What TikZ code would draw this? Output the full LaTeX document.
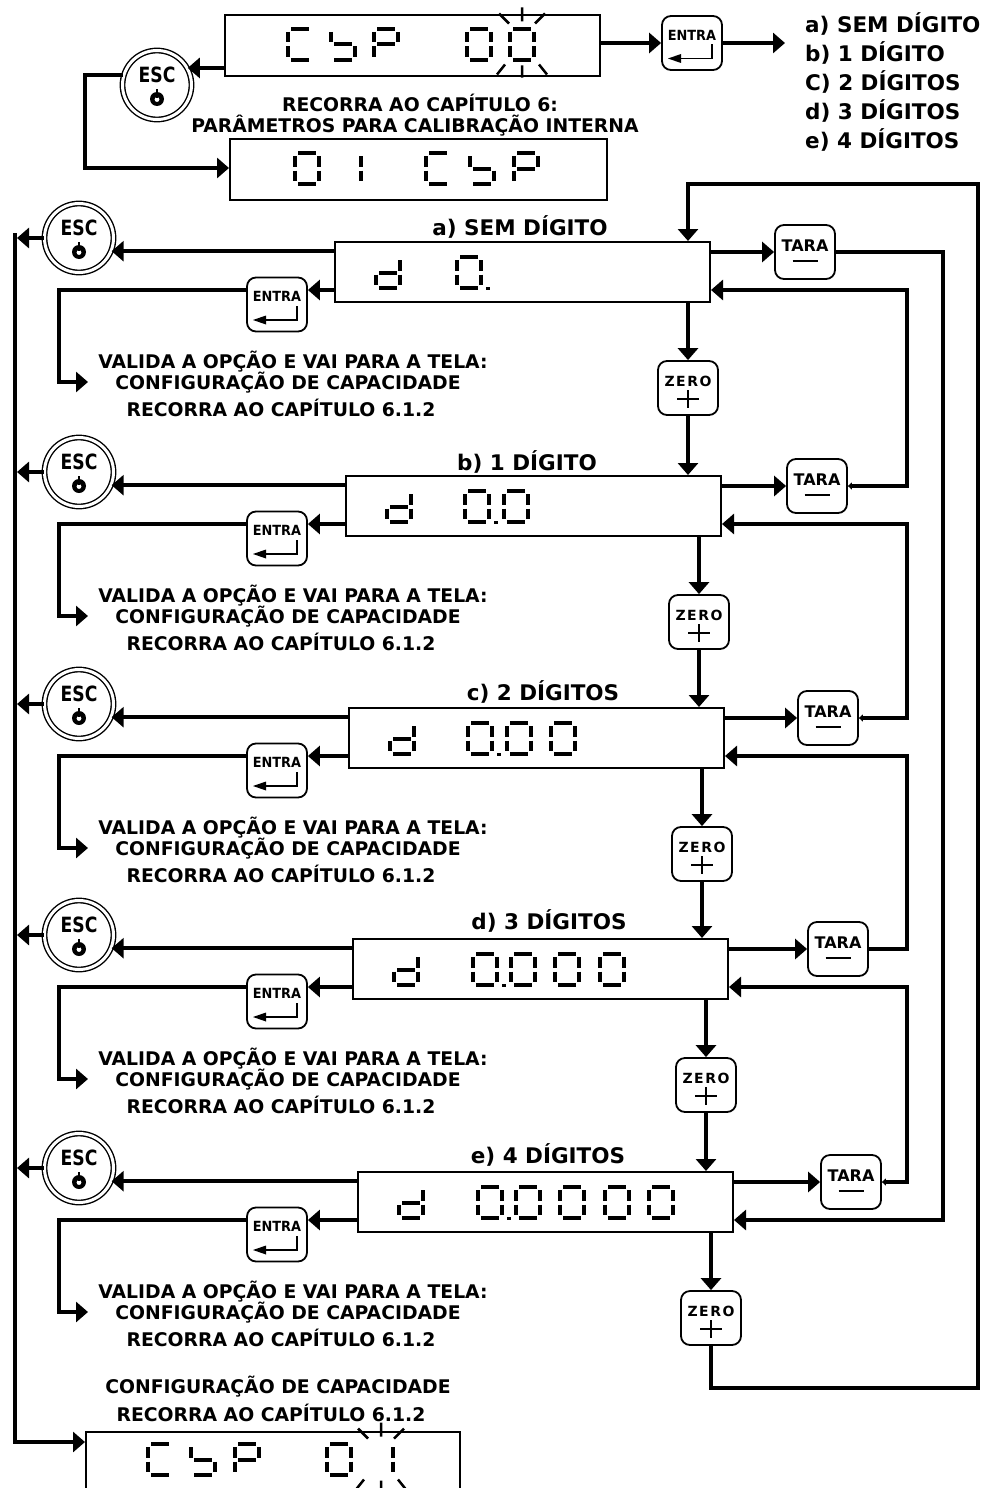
\documentclass[tikz,border=0pt]{standalone}
\usepackage{fontspec}
\usepackage{graphicx}
\setmainfont{DejaVu Sans}
\usetikzlibrary{arrows.meta,calc}
\tikzset{
  arr/.style={line width=4pt,-{Triangle[length=12pt,width=20pt]}},
  arrt/.style={line width=4pt,{Triangle[length=4pt,width=7pt]}-{Triangle[length=12pt,width=20pt]}},
  disp/.style={draw,line width=2pt,minimum width=375pt,minimum height=60pt,inner sep=0pt},
  keyb/.style={draw,line width=1.8pt,rounded corners=9pt,minimum width=60pt,minimum height=54pt,inner sep=0pt},
  escb/.style={circle,draw,double,line width=1.4pt,double distance=3pt,minimum size=69pt,inner sep=0pt},
  sg/.style={line width=4pt},
  ray/.style={line width=2.5pt},
  lbl/.style={font=\bfseries\fontsize{21.5}{21.5}\selectfont,inner sep=0pt},
  body/.style={font=\bfseries\fontsize{18.8}{18.8}\selectfont,inner sep=0pt},
  esct/.style={font=\bfseries\fontsize{21}{21}\selectfont,inner sep=0pt},
  entt/.style={font=\bfseries\fontsize{14}{14}\selectfont,inner sep=0pt},
  tarat/.style={font=\bfseries\fontsize{16}{16}\selectfont,inner sep=0pt},
}
% seven segment pieces: x = left, y = top of a 28 x 35 cell
\newcommand\sgxa[2]{\draw[sg] (#1+5,#2+2) -- (#1+23,#2+2);}
\newcommand\sgxb[2]{\draw[sg] (#1+26,#2+5) -- (#1+26,#2+15.5);}
\newcommand\sgxc[2]{\draw[sg] (#1+26,#2+19.5) -- (#1+26,#2+30);}
\newcommand\sgxd[2]{\draw[sg] (#1+5,#2+33) -- (#1+23,#2+33);}
\newcommand\sgxe[2]{\draw[sg] (#1+2,#2+19.5) -- (#1+2,#2+30);}
\newcommand\sgxf[2]{\draw[sg] (#1+2,#2+5) -- (#1+2,#2+15.5);}
\newcommand\sgxg[2]{\draw[sg] (#1+5,#2+17.5) -- (#1+23,#2+17.5);}
\newcommand\sgxp[2]{\fill (#1+31,#2+32) rectangle (#1+35,#2+35);}
\newcommand\dgt[3]{\foreach \s in {#3}{\csname sgx\s\endcsname{#1}{#2}}}
\newcommand\blinkat[2]{%
  \draw[ray] (#1,#2-37) -- (#1,#2-23) (#1,#2+21) -- (#1,#2+33)
    (#1-13,#2-21) -- (#1-23,#2-31) (#1+13,#2-21) -- (#1+23,#2-31)
    (#1-17,#2+20) -- (#1-25,#2+30) (#1+17,#2+20) -- (#1+25,#2+30);}
\newcommand\escbtn[3]{%
  \node[escb] (#1) at (#2,#3) {};
  \node[esct] (#1t) at (#2,#3-10) {\scalebox{0.82}[1]{ESC}};
  \fill (#2,#3+14) circle (7);
  \fill[white] (#2,#3+14.5) circle (2.4);
  \draw[line width=2.8pt] (#2,#3+4) -- (#2,#3+13);}
\newcommand\entbtn[3]{%
  \node[keyb] (#1) at (#2,#3) {};
  \node[entt] (#1t) at (#2,#3-8) {\scalebox{0.92}[1]{ENTRA}};
  \draw[line width=1.8pt] (#2+20,#3+1.5) -- (#2+20,#3+15.5) -- (#2-12,#3+15.5);
  \fill (#2-24,#3+15.5) -- (#2-11,#3+11) -- (#2-11,#3+20) -- cycle;}
\newcommand\tarabtn[3]{%
  \node[keyb] (#1) at (#2,#3) {};
  \node[tarat] (#1t) at (#2,#3-6) {TARA};
  \draw[line width=1.8pt] (#2-12.5,#3+9) -- (#2+12.5,#3+9);}
\newcommand\zerobtn[3]{%
  \node[keyb] (#1) at (#2,#3) {};
  \node[entt] (#1t) at (#2,#3-7) {Z\kern1.5pt E\kern1.5pt R\kern1.5pt O};
  \draw[line width=1.5pt] (#2-11,#3+11) -- (#2+11,#3+11) (#2,#3+2) -- (#2,#3+20);}
% one row: #1 name, #2 top, #3 left, #4 tara x, #5 label x, #6 label y, #7 label
\newcommand\rowx[7]{%
  \node[disp] (d#1) at (#3+187.5,#2+30) {};
  \node[lbl] (lab#1) at (#5,#6) {#7};
  \escbtn{esc#1}{79}{#2-4}
  \entbtn{ent#1}{277}{#2+62.5}
  \tarabtn{tara#1}{#4}{#2+10}
  \zerobtn{z#1}{#3+353}{#2+146}
  \node[body] (va#1) at (293,#2+120) {VALIDA A OPÇÃO E VAI PARA A TELA:};
  \node[body] (cf#1) at (288,#2+141) {CONFIGURAÇÃO DE CAPACIDADE};
  \node[body] (rc#1) at (281,#2+166) {RECORRA AO CAPÍTULO 6.1.2};
  \coordinate (ey#1) at (0,#2+48);
  \coordinate (ec#1) at (59,#2+140);
  \coordinate (ea#1) at (88,#2+140);
  \dgt{#3+39}{#2+13}{b,c,d,e,g}
  \draw[arr] (esc#1.-22 -| d#1.west) -- (esc#1.-22);
  \draw[arr] (esc#1.west) -- (esc#1.west -| lfte);
  \draw[arr] (ey#1 -| d#1.west) -- (ey#1 -| ent#1.east);
  \draw[arr] (ey#1 -| ent#1.west) -| (ec#1) -- (ea#1);
  \draw[arr] (d#1.east |- tara#1) -- (tara#1.west);
  \draw[arr] (z#1 |- d#1.south) -- (z#1.north);
}
\begin{document}
\begin{tikzpicture}[x=1pt,y=-1pt]
\useasboundingbox (0,0) rectangle (988,1488);
\fill[white] (0,0) rectangle (988,1488);
\coordinate (lft) at (15,0);
\coordinate (lfte) at (17,0);
\coordinate (rx) at (907,0);
\coordinate (rx2) at (943,0);
\coordinate (rx3) at (978,0);
\coordinate (tp) at (0,184);
\coordinate (bl) at (0,1388);
% ---------- top part ----------
\node[disp,minimum height=61pt] (cspa) at (412.5,45.5) {};
\dgt{286}{27}{a,d,e,f}
\dgt{329}{27}{f,g,c,d}
\dgt{372}{27}{a,b,f,g,e}
\dgt{465}{27}{a,b,c,d,e,f}
\dgt{508}{27}{a,b,c,d,e,f}
\blinkat{522}{44.5}
\node[disp,minimum width=377pt,minimum height=61pt] (cspb) at (418.5,169.5) {};
\dgt{293}{151}{a,b,c,d,e,f}
\dgt{335}{151}{b,c}
\dgt{424}{151}{a,d,e,f}
\dgt{468}{151}{f,g,c,d}
\dgt{512}{151}{a,b,f,g,e}
\escbtn{escT}{157}{85}
\entbtn{entT}{692}{43}
\coordinate (listarr) at (785,43);
\coordinate (tl) at (85,168);
\node[body] (rcT) at (420,103) {RECORRA AO CAPÍTULO 6:};
\node[body] (pmT) at (415,126) {PARÂMETROS PARA CALIBRAÇÃO INTERNA};
\node[lbl,anchor=west] (la) at (805,24) {a) SEM DÍGITO};
\node[lbl,anchor=west] (lb) at (805,53) {b) 1 DÍGITO};
\node[lbl,anchor=west] (lc) at (805,82) {C) 2 DÍGITOS};
\node[lbl,anchor=west] (ld) at (805,111) {d) 3 DÍGITOS};
\node[lbl,anchor=west] (le) at (805,140) {e) 4 DÍGITOS};
\draw[arr] (escT.29 -| cspa.west) -- (escT.29);
\draw[arr] (escT.164) -| (tl) -- (tl -| cspb.west);
\draw[arr] (entT.west -| cspa.east) -- (entT.west);
\draw[arr] (entT.east) -- (listarr);
% ---------- rows ----------
\rowx{A}{242}{335}{805}{520}{227}{a) SEM DÍGITO}
\rowx{B}{476}{346}{817}{527}{462}{b) 1 DÍGITO}
\rowx{C}{708}{349}{828}{543}{692}{c) 2 DÍGITOS}
\rowx{D}{939}{353}{838}{549}{921}{d) 3 DÍGITOS}
\rowx{E}{1172}{358}{851}{548}{1155}{e) 4 DÍGITOS}
% display digits
\dgt{335+120}{255}{a,b,c,d,e,f}\sgxp{455}{255}
\dgt{346+117}{489}{a,b,c,d,e,f}\sgxp{463}{489}
\dgt{346+156}{489}{a,b,c,d,e,f}
\dgt{349+117}{721}{a,b,c,d,e,f}\sgxp{466}{721}
\dgt{349+156}{721}{a,b,c,d,e,f}
\dgt{349+200}{721}{a,b,c,d,e,f}
\dgt{353+118}{952}{a,b,c,d,e,f}\sgxp{471}{952}
\dgt{353+156}{952}{a,b,c,d,e,f}
\dgt{353+200}{952}{a,b,c,d,e,f}
\dgt{353+245}{952}{a,b,c,d,e,f}
\dgt{358+118}{1185}{a,b,c,d,e,f}\sgxp{476}{1185}
\dgt{358+156}{1185}{a,b,c,d,e,f}
\dgt{358+200}{1185}{a,b,c,d,e,f}
\dgt{358+245}{1185}{a,b,c,d,e,f}
\dgt{358+289}{1185}{a,b,c,d,e,f}
% zero chain
\draw[arr] (zA.south) -- (zA.south |- dB.north);
\draw[arr] (zB.south) -- (zB.south |- dC.north);
\draw[arr] (zC.south) -- (zC.south |- dD.north);
\draw[arr] (zD.south) -- (zD.south |- dE.north);
\draw[arr] (zE.south) -- (zE.south |- bl) -- (bl -| rx3) -- (rx3 |- tp) -- (tp -| zA) -- (zA |- dA.north);
% tara chain
\draw[arr] (taraA.east) -- (taraA.east -| rx2) -- (rx2 |- eyE) -- (eyE -| dE.east);
\draw[arrt] (taraB.east) -- (taraB.east -| rx) -- (rx |- eyA) -- (eyA -| dA.east);
\draw[arrt] (taraC.east) -- (taraC.east -| rx) -- (rx |- eyB) -- (eyB -| dB.east);
\draw[arr] (taraD.east) -- (taraD.east -| rx) -- (rx |- eyC) -- (eyC -| dC.east);
\draw[arrt] (taraE.east) -- (taraE.east -| rx) -- (rx |- eyD) -- (eyD -| dD.east);
% ---------- bottom ----------
\node[body] (cfF) at (278,1387) {CONFIGURAÇÃO DE CAPACIDADE};
\node[body] (rcF) at (271,1413) {RECORRA AO CAPÍTULO 6.1.2};
\node[disp,minimum width=374pt,minimum height=76pt] (dF) at (273,1470) {};
\dgt{146}{1442}{a,d,e,f}
\dgt{189}{1442}{f,g,c,d}
\dgt{233}{1442}{a,b,f,g,e}
\dgt{325}{1442}{a,b,c,d,e,f}
\dgt{367}{1442}{b,c}
\blinkat{381}{1459.5}
\coordinate (lt) at (15,233);
\coordinate (lbot) at (15,1442);
\draw[arr] (lt) -- (lbot) -- (lbot -| dF.west);
\end{tikzpicture}
\end{document}
